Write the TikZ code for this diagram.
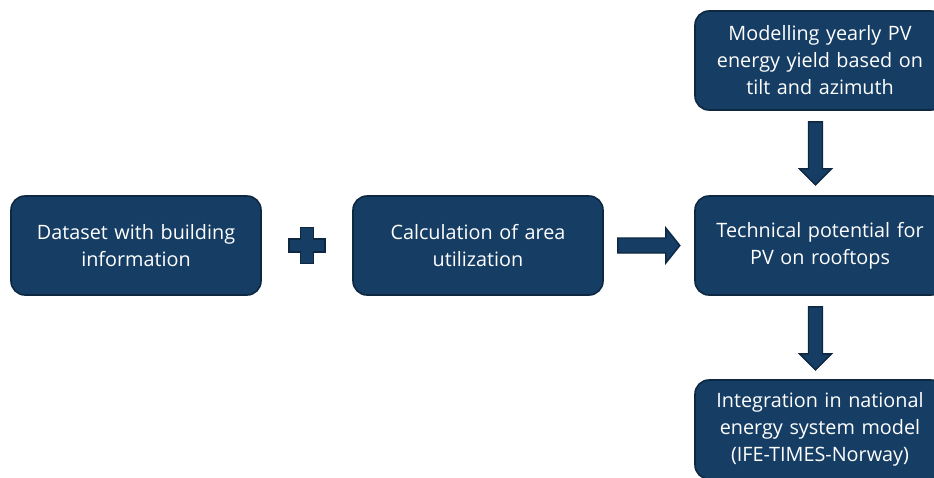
\documentclass[tikz,border=0pt]{standalone}
\usepackage{fontspec}
\setmainfont{Open Sans}
\usetikzlibrary{positioning,calc}
\definecolor{boxblue}{HTML}{163D64}
\definecolor{edgeblue}{HTML}{0E2841}

\begin{document}
\begin{tikzpicture}[x=1pt,y=-1pt,
  stepbox/.style={draw=edgeblue,line width=1.6pt,rounded corners=14pt,fill=boxblue,
    text=white,minimum width=250pt,minimum height=99pt,text width=240pt,
    align=center,inner sep=0pt,font=\fontsize{19.8}{27}\selectfont},
  blockarrow/.style={draw=edgeblue,line width=1.4pt,fill=boxblue,line join=miter}]
  \useasboundingbox (0,0) rectangle (934,477);
  \clip (0,0) rectangle (934,477);
  \fill[white] (0,0) rectangle (934,477);

  % main row
  \node[stepbox] (data) at (136,245.5) {Dataset with building\\information};
  \node[stepbox,right=90.4pt of data] (area) {Calculation of area\\utilization};
  \node[stepbox,right=90.4pt of area] (tech) {Technical potential for\\PV on rooftops};
  \node[stepbox,above=84.4pt of tech] (model) {Modelling yearly PV\\energy yield based on\\tilt and azimuth};
  \node[stepbox,below=83.4pt of tech] (times) {Integration in national\\energy system model\\(IFE-TIMES-Norway)};

  % plus sign
  \draw[blockarrow] ($(data.east)!0.5!(area.west)+(-6.5,-18)$) -- ++(13,0) -- ++(0,11.5)
    -- ++(11.5,0) -- ++(0,13) -- ++(-11.5,0) -- ++(0,11.5) -- ++(-13,0) -- ++(0,-11.5)
    -- ++(-11.5,0) -- ++(0,-13) -- ++(11.5,0) -- cycle;

  % block arrows
  \draw[blockarrow] ($(area.east)+(14,-7.5)$) -- ++(48,0) -- ++(0,-10) -- ++(14,17.5)
    -- ++(-14,17.5) -- ++(0,-10) -- ++(-48,0) -- cycle;
  \draw[blockarrow] ($(model.south)+(-11.5,11)$) -- ++(14,0) -- ++(0,47) -- ++(9,0)
    -- ++(-16,16) -- ++(-16,-16) -- ++(9,0) -- cycle;
  \draw[blockarrow] ($(tech.south)+(-11.5,11)$) -- ++(14,0) -- ++(0,47) -- ++(9,0)
    -- ++(-16,16) -- ++(-16,-16) -- ++(9,0) -- cycle;
\end{tikzpicture}
\end{document}
